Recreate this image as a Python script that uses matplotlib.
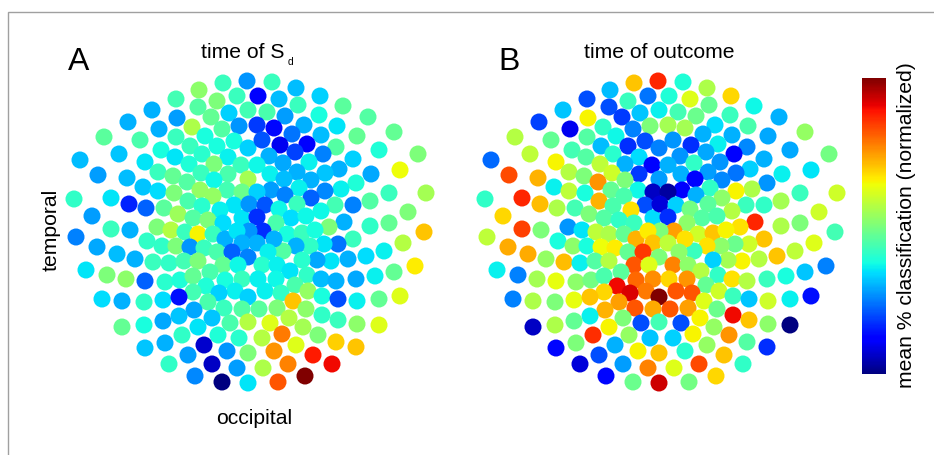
import matplotlib
matplotlib.use("Agg")
import matplotlib.pyplot as plt
from matplotlib.patches import Rectangle
from matplotlib.cm import ScalarMappable
from matplotlib.colors import Normalize

plt.rcParams['font.family'] = ['Liberation Sans', 'DejaVu Sans']

sensor_x = [223,247,199,176,237,217,152,198,229,248,128,177,211,192,239,222,159,104,140,176,205,234,190,217,161,119,202,248,175,228,
80,145,189,214,241,158,201,173,228,98,127,187,214,248,143,158,200,227,174,213,242,74,111,188,129,146,202,234,220,164,
178,92,242,193,208,111,130,157,171,223,
272,296,320,258,279,343,298,267,319,368,285,257,274,304,337,394,357,292,321,262,280,307,336,379,418,269,295,323,353,400,
283,309,257,339,371,270,297,325,284,311,356,341,299,271,325,389,426,257,285,311,370,353,335,297,249,265,279,321,408,257,
291,306,389,370,276,344,329,424,263,249,287,302,315,
76,185,198,213,225,237,147,162,176,190,204,97,242,217,232,117,135,153,169,184,198,248,223,238,86,107,126,145,165,180,
193,210,225,242,206,235,219,193,102,122,144,163,179,208,248,224,194,242,179,163,212,122,144,198,230,248,182,218,165,145,
239,204,227,188,248,169,212,237,195,222,248,
403,384,366,353,338,324,310,296,283,274,257,268,348,331,317,302,415,394,262,277,290,307,321,336,356,375,258,276,295,308,
265,281,400,322,379,338,357,293,259,277,306,322,338,357,379,289,270,303,318,282,262,336,356,296,274,313,288,332,263,305,278]

sensor_y = [83,81,90,99,96,101,110,107,113,110,122,118,117,127,126,129,129,137,140,137,136,141,146,146,150,154,154,148,157,157,
160,162,164,164,165,172,173,176,174,175,178,182,180,179,187,191,190,190,193,196,192,199,198,201,204,208,206,205,210,208,
214,216,218,218,220,229,230,227,230,223,
82,88,96,96,99,106,105,112,115,117,116,125,128,125,126,132,136,134,135,140,145,144,147,150,154,156,152,154,159,170,
163,162,165,169,174,174,172,173,179,180,183,189,188,190,191,193,193,192,195,198,201,205,205,204,204,205,209,211,212,217,
218,216,223,226,223,222,227,232,231,231,234,233,230,
237,232,234,234,239,231,241,246,246,247,248,247,243,252,252,254,259,262,263,261,261,257,265,265,270,275,279,281,282,280,
276,272,280,279,286,291,293,292,299,301,302,300,297,302,297,308,310,309,316,321,318,327,325,327,323,322,335,335,343,348,
338,345,351,355,353,364,364,368,376,382,383,
243,251,256,239,244,244,246,246,251,239,243,252,259,261,260,260,266,272,265,265,271,275,279,281,279,276,279,279,285,291,
291,293,296,296,299,299,301,301,309,308,309,315,320,324,325,318,323,327,335,334,338,342,347,345,351,355,364,364,368,376,382]

time_of_sd = [.42,.27,.52,.43,.42,.5,.3,.45,.33,.43,.3,.28,.47,.56,.27,.45,.3,.46,.44,.42,.38,.38,.42,.38,.38,.32,.4,.33,.35,.36,
.31,.35,.39,.5,.42,.42,.42,.47,.44,.28,.31,.45,.37,.55,.32,.34,.53,.43,.5,.53,.48,.41,.35,.44,.16,.22,.4,.35,.36,.46,
.54,.28,.35,.45,.5,.42,.3,.5,.57,.34,
.42,.31,.33,.12,.31,.46,.42,.44,.38,.45,.28,.18,.13,.3,.35,.47,.47,.24,.31,.21,.1,.11,.45,.39,.5,.3,.19,.25,.33,.64,
.29,.36,.37,.3,.29,.36,.3,.32,.31,.3,.39,.36,.36,.28,.26,.42,.55,.33,.25,.22,.45,.25,.43,.42,.27,.21,.37,.37,.5,.17,
.34,.37,.47,.41,.44,.3,.5,.7,.17,.27,.38,.42,.38,
.25,.42,.65,.42,.3,.35,.41,.41,.5,.27,.42,.29,.3,.44,.22,.31,.3,.42,.41,.43,.5,.25,.47,.37,.35,.5,.52,.22,.4,.39,
.47,.44,.38,.42,.39,.36,.33,.43,.34,.3,.41,.34,.14,.44,.33,.42,.29,.45,.32,.29,.32,.47,.38,.35,.44,.57,.41,.39,.3,.32,
.4,.07,.27,.28,.5,.41,.06,.28,.26,0,.35,
.57,.36,.34,.42,.24,.35,.41,.3,.45,.3,.3,.36,.3,.35,.29,.4,.66,.47,.4,.36,.35,.41,.31,.3,.29,.36,.36,.37,.44,.53,
.36,.41,.62,.38,.47,.2,.36,.7,.46,.5,.52,.41,.42,.52,.62,.57,.62,.55,.5,.78,.57,.69,.7,.62,.75,.88,.77,.9,.56,1.0,.82]

time_of_outcome = [.70,.87,.31,.2,.24,.42,.32,.2,.32,.36,.19,.65,.18,.41,.5,.25,.1,.57,.47,.45,.37,.2,.31,.17,.43,.58,.4,.25,.45,.34,
.23,.65,.58,.3,.12,.57,.6,.5,.18,.83,.72,.75,.5,.28,.36,.58,.47,.37,.38,.44,.06,.41,.87,.72,.71,.56,.44,.2,.67,.43,
.5,.68,.34,.45,.41,.84,.5,.27,.35,.42,
.39,.56,.68,.39,.62,.37,.47,.43,.42,.3,.48,.55,.55,.34,.44,.53,.29,.3,.3,.27,.17,.36,.26,.29,.49,.27,.29,.12,.3,.35,
.41,.27,.3,.33,.36,.3,.28,.24,.12,.26,.27,.56,.41,.12,.65,.42,.6,.03,.3,.52,.55,.41,.42,.46,.08,.33,.49,.57,.6,.17,
.45,.44,.5,.56,.52,.87,.67,.43,.74,.5,.6,.7,.65,
.58,.58,.56,.47,.72,.66,.38,.52,.38,.64,.66,.73,.7,.47,.85,.73,.53,.71,.36,.45,.57,.5,.82,.62,.36,.25,.55,.63,.52,.49,
.44,.46,.8,.76,.9,.78,.92,.68,.25,.56,.5,.63,.7,.74,1.0,.82,.72,.73,.36,.47,.5,.06,.56,.65,.2,.43,.86,.53,.5,.13,
.32,.3,.65,.2,.7,.08,.28,.77,.13,.48,.93,
.62,.58,.7,.7,.6,.48,.52,.67,.42,.67,.58,.52,.57,.65,.55,.33,.25,.32,.77,.52,.57,.41,.67,.57,.42,.38,.68,.75,.47,.6,
.82,.82,.14,.42,.36,.32,.6,.62,.82,.74,.48,.9,.7,.52,0,.65,.2,.53,.75,.65,.33,.45,.17,.53,.4,.7,.83,.41,.62,.68,.49]

panel_letters = ["A", "B"]
colorbar_label = "mean % classification (normalized)"

W, H = 934, 455
fig = plt.figure(figsize=(W / 100, H / 100), dpi=100)


def box(x0, y0, x1, y1):
    return [x0 / W, 1 - y1 / H, (x1 - x0) / W, (y1 - y0) / H]


norm = Normalize(0, 1)
for left, vals in ((60, time_of_sd), (471, time_of_outcome)):
    ax = fig.add_axes(box(left, 60, left + 380, 395))
    ax.scatter(sensor_x, sensor_y, c=vals, cmap="jet", norm=norm, s=150, linewidths=0)
    ax.set_xlim(60, 440)
    ax.set_ylim(395, 60)
    ax.axis("off")

cax = fig.add_axes(box(862, 78, 886, 374))
cb = fig.colorbar(ScalarMappable(norm=norm, cmap="jet"), cax=cax)
cb.set_ticks([])
cb.outline.set_visible(False)

fig.add_artist(Rectangle((8 / W, -0.02), 1.1, 1 - 12 / H + 0.02, transform=fig.transFigure,
                         fill=False, edgecolor="#a0a0a0", linewidth=1))


def label(px, py, s, size, **kw):
    fig.text(px / W, 1 - py / H, s, fontsize=size, ha="center", va="center", **kw)


label(79, 62, panel_letters[0], 23)
label(509, 62, panel_letters[1], 23)
label(243, 53, "time of S", 15.2)
label(290, 62, "d", 7.5)
label(659, 53, "time of outcome", 15.2)
label(51, 230, "temporal", 15.2, rotation=90)
label(254, 418, "occipital", 15.2)
label(906, 225, colorbar_label, 15.2, rotation=90)

fig.savefig("out.png", dpi=100)
assert len(sensor_x) == len(sensor_y) == len(time_of_sd) == len(time_of_outcome)
